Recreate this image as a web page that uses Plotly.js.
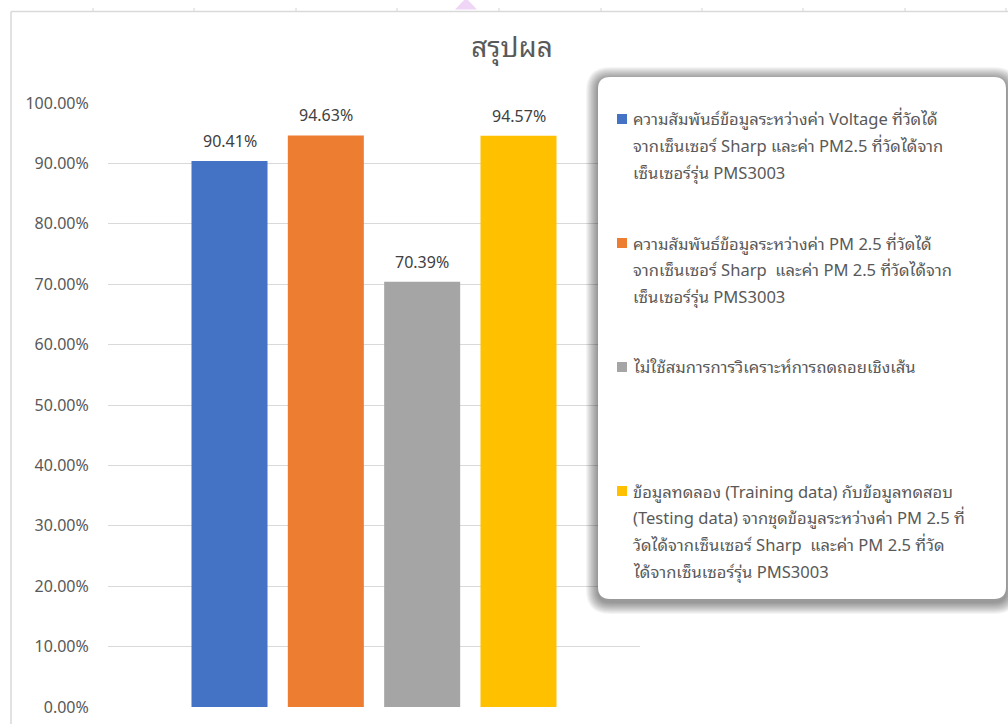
<!DOCTYPE html>
<html><head><meta charset="utf-8">
<script src="https://cdn.plot.ly/plotly-3.0.1.min.js"></script>
<style>html,body{margin:0;padding:0;background:#fff;overflow:hidden}#chart{width:1008px;height:724px}</style>
</head><body><div id="chart"></div>
<script>
// ---------- data ----------
const chartTitle = 'สรุปผล';
const categories = ['สรุปผล'];
const seriesValues = [0.9041, 0.9463, 0.7039, 0.9457];
const seriesColors = ['#4472C4', '#ED7D31', '#A5A5A5', '#FFC000'];
const seriesNames = [
  ['ความสัมพันธ์ข้อมูลระหว่างค่า Voltage ที่วัดได้', 'จากเซ็นเซอร์ Sharp และค่า PM2.5 ที่วัดได้จาก', 'เซ็นเซอร์รุ่น PMS3003'],
  ['ความสัมพันธ์ข้อมูลระหว่างค่า PM 2.5 ที่วัดได้', 'จากเซ็นเซอร์ Sharp  และค่า PM 2.5 ที่วัดได้จาก', 'เซ็นเซอร์รุ่น PMS3003'],
  ['ไม่ใช้สมการการวิเคราะห์การถดถอยเชิงเส้น'],
  ['ข้อมูลทดลอง (Training data) กับข้อมูลทดสอบ', '(Testing data) จากชุดข้อมูลระหว่างค่า PM 2.5 ที่', 'วัดได้จากเซ็นเซอร์ Sharp  และค่า PM 2.5 ที่วัด', 'ได้จากเซ็นเซอร์รุ่น PMS3003']
];
const yTickValues = [0, 0.1, 0.2, 0.3, 0.4, 0.5, 0.6, 0.7, 0.8, 0.9, 1.0];

// ---------- layout geometry (pixels) ----------
const W = 1008, H = 724;
const PL = 108, PR = 640, PT = 103, PB = 707;
const px2x = p => (p - PL) / (PR - PL);
const py2y = p => (PB - p) / (PB - PT);
const BARGAP = 0.2757, BARGROUPGAP = 0.211;
const FONT = '"Noto Sans Thai Looped", "Leelawadee UI", Tahoma, Loma, Garuda, "Open Sans", "Noto Sans Thai", "Noto Sans", sans-serif';
const TXT = '#595959';

// legend layout
const LEG = {x0: 598, y0: 77, x1: 1006, y1: 599, r: 12};
const legendFirstLineY = [119, 243, 367, 491];
const legendLineStep = 24.5;
const legendMarkerX = 617, legendMarkerSize = 10, legendTextX = 632, legendFontSize = 17.5;

function rr(x0, y0, x1, y1, r) {
  const P = (x, y) => px2x(x) + ',' + py2y(y);
  return 'M' + P(x0 + r, y0) + ' L' + P(x1 - r, y0) + ' Q' + P(x1, y0) + ' ' + P(x1, y0 + r) +
    ' L' + P(x1, y1 - r) + ' Q' + P(x1, y1) + ' ' + P(x1 - r, y1) +
    ' L' + P(x0 + r, y1) + ' Q' + P(x0, y1) + ' ' + P(x0, y1 - r) +
    ' L' + P(x0, y0 + r) + ' Q' + P(x0, y0) + ' ' + P(x0 + r, y0) + ' Z';
}

// ---------- traces ----------
const traces = seriesValues.map((v, i) => ({
  type: 'bar',
  x: categories,
  y: [v],
  name: seriesNames[i].join(' '),
  marker: {color: seriesColors[i], line: {width: 0}},
  hoverinfo: 'skip',
  showlegend: false
}));

// ---------- shapes ----------
const shapes = [];
[93, 194, 296, 397, 499, 601, 702, 803, 905, 1006].forEach(x => {
  shapes.push({type: 'line', xref: 'paper', yref: 'paper', x0: px2x(x), x1: px2x(x), y0: py2y(8), y1: py2y(12),
    line: {color: '#d4d4d4', width: 1}});
});
shapes.push({type: 'path', xref: 'paper', yref: 'paper',
  path: 'M' + px2x(455) + ',' + py2y(9.5) + ' L' + px2x(477) + ',' + py2y(9.5) + ' L' + px2x(466) + ',' + py2y(-2) + ' Z',
  fillcolor: '#f0d6f6', line: {width: 0}});
shapes.push({type: 'line', xref: 'paper', yref: 'paper', x0: px2x(11), x1: px2x(1010), y0: py2y(11.5), y1: py2y(11.5),
  line: {color: '#d9d9d9', width: 1.5}});
shapes.push({type: 'line', xref: 'paper', yref: 'paper', x0: px2x(11), x1: px2x(11), y0: py2y(11.5), y1: py2y(730),
  line: {color: '#d9d9d9', width: 1.5}});
for (let k = 12; k >= 1; k--) {
  shapes.push({type: 'path', xref: 'paper', yref: 'paper',
    path: rr(LEG.x0 - k, LEG.y0 - k + 2, LEG.x1 + k, LEG.y1 + k + 3, LEG.r + k),
    fillcolor: 'rgba(0,0,0,0.04)', line: {width: 0}});
}
shapes.push({type: 'path', xref: 'paper', yref: 'paper', path: rr(LEG.x0, LEG.y0, LEG.x1, LEG.y1, LEG.r),
  fillcolor: '#ffffff', line: {width: 0}});
seriesColors.forEach((c, i) => {
  const yc = legendFirstLineY[i];
  shapes.push({type: 'rect', xref: 'paper', yref: 'paper',
    x0: px2x(legendMarkerX), x1: px2x(legendMarkerX + legendMarkerSize),
    y0: py2y(yc + legendMarkerSize / 2), y1: py2y(yc - legendMarkerSize / 2),
    fillcolor: c, line: {width: 0}});
});

// ---------- annotations ----------
const annotations = [];
const slot = (1 - BARGAP) / seriesValues.length;
seriesValues.forEach((v, i) => {
  annotations.push({
    xref: 'x', yref: 'y', x: -(1 - BARGAP) / 2 + (i + 0.5) * slot, y: v,
    text: (v * 100).toFixed(2) + '%', showarrow: false, yanchor: 'middle', yshift: 21, borderpad: 0,
    font: {family: FONT, size: 16, color: '#404040'}
  });
});
const legendIdx = [];
seriesNames.forEach((lines, i) => {
  lines.forEach((t, j) => {
    legendIdx.push({idx: annotations.length, i: i, j: j});
    annotations.push({
      xref: 'paper', yref: 'paper', x: px2x(legendTextX), y: py2y(legendFirstLineY[i] + j * legendLineStep),
      xanchor: 'left', yanchor: 'middle', text: t, showarrow: false, align: 'left', borderpad: 0,
      font: {family: FONT, size: legendFontSize, color: TXT}
    });
  });
});

const layout = {
  width: W, height: H,
  margin: {l: PL, r: W - PR, t: PT, b: H - PB, pad: 0},
  paper_bgcolor: '#ffffff', plot_bgcolor: '#ffffff',
  title: {text: chartTitle, x: 512 / W, xanchor: 'center', xref: 'container', y: 1 - 47 / H, yanchor: 'middle',
    font: {family: FONT, size: 28, color: TXT}},
  barmode: 'group', bargap: BARGAP, bargroupgap: BARGROUPGAP,
  showlegend: false,
  xaxis: {type: 'category', showticklabels: false, showgrid: false, zeroline: false, showline: false, ticks: '', fixedrange: true},
  yaxis: {range: [0, 1], tickvals: yTickValues, tickformat: '.2%', showgrid: true, gridcolor: '#d9d9d9', gridwidth: 1,
    zeroline: false, showline: false, ticks: 'outside', ticklen: 15, tickcolor: 'rgba(0,0,0,0)',
    tickfont: {family: FONT, size: 16, color: TXT}, fixedrange: true},
  shapes: shapes,
  annotations: annotations,
  font: {family: FONT}
};

Plotly.newPlot('chart', traces, layout, {displayModeBar: false, staticPlot: true}).then(gd => {
  // keep wrapped legend lines from overlapping: fit font size / line step to the font's real line box
  const texts = gd.querySelectorAll('.annotation-text');
  const probe = texts[legendIdx[0].idx];
  if (!probe) return;
  const h = probe.getBBox().height;
  if (!(h > 0)) return;
  const k = h / legendFontSize;
  const f = Math.min(legendFontSize, 26.5 / k);
  const step = Math.max(legendLineStep, f * k + 0.4);
  if (f === legendFontSize && step === legendLineStep) return;
  const upd = {};
  legendIdx.forEach(o => {
    upd['annotations[' + o.idx + '].font.size'] = f;
    upd['annotations[' + o.idx + '].y'] = py2y(legendFirstLineY[o.i] - 1 + o.j * step);
  });
  return Plotly.relayout(gd, upd);
});
</script>
</body></html>
